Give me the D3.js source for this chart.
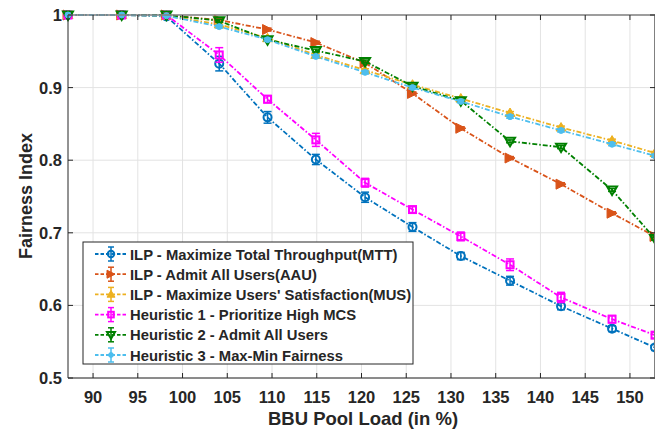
<!DOCTYPE html>
<html>
<head>
<meta charset="utf-8" />
<script src="https://cdn.jsdelivr.net/npm/d3@7"></script>
<style>
  body { margin: 0; background: #fff; }
  text { font-family: "Liberation Sans", Arial, sans-serif; font-weight: bold; fill: #262626; }
</style>
</head>
<body>
<script>
var loads = [87.2, 93.2, 98.2, 104.1, 109.5, 114.9, 120.4, 125.7, 131.1, 136.6, 142.3, 148.0, 152.8];

var mtt = [1, 1, 0.998, 0.933, 0.859, 0.801, 0.749, 0.708, 0.668, 0.634, 0.599, 0.568, 0.542];
var aau = [1, 1, 1, 0.993, 0.980, 0.962, 0.934, 0.892, 0.844, 0.803, 0.767, 0.727, 0.695];
var mus = [1, 1, 0.999, 0.987, 0.968, 0.945, 0.924, 0.904, 0.885, 0.865, 0.845, 0.827, 0.810];
var h1 = [1, 1, 1, 0.945, 0.884, 0.828, 0.769, 0.732, 0.695, 0.656, 0.611, 0.581, 0.559];
var h2 = [1, 1, 1, 0.992, 0.966, 0.951, 0.936, 0.902, 0.882, 0.826, 0.818, 0.759, 0.692];
var h3 = [1, 1, 0.999, 0.984, 0.966, 0.943, 0.921, 0.900, 0.881, 0.860, 0.841, 0.822, 0.806];

var errMtt = [0, 0, 0.002, 0.010, 0.008, 0.007, 0.007, 0.006, 0.005, 0.006, 0.005, 0.004, 0.004];
var errH1 = [0, 0, 0.001, 0.010, 0.005, 0.009, 0.006, 0.004, 0.006, 0.008, 0.007, 0.005, 0.004];
var errSmall = [0, 0, 0.001, 0.002, 0.002, 0.002, 0.002, 0.002, 0.002, 0.002, 0.002, 0.002, 0.002];

var seriesNames = [
    "ILP - Maximize Total Throughput(MTT)",
    "ILP - Admit All Users(AAU)",
    "ILP - Maximize Users' Satisfaction(MUS)",
    "Heuristic 1 - Prioritize High MCS",
    "Heuristic 2 - Admit All Users",
    "Heuristic 3 - Max-Min Fairness"
];
var seriesColors = ["#0072BD", "#D95319", "#EDB120", "#FF00FF", "#008000", "#4DBEEE"];
var seriesMarkers = ["circle", "right", "up", "square", "down", "dot"];
var seriesValues = [mtt, aau, mus, h1, h2, h3];
var seriesErr = [errMtt, errSmall, errSmall, errH1, errSmall, errSmall];

var xTicks = [90, 95, 100, 105, 110, 115, 120, 125, 130, 135, 140, 145, 150];
var yTicks = [0.5, 0.6, 0.7, 0.8, 0.9, 1];

var width = 656, height = 432;
var margin = { left: 68, right: 1, top: 15, bottom: 54 };

var svg = d3.select("body").append("svg")
    .attr("width", width)
    .attr("height", height);

var x = d3.scaleLinear()
    .domain([87.2, 152.8])
    .range([margin.left, width - margin.right]);

var y = d3.scaleLinear()
    .domain([0.5, 1])
    .range([height - margin.bottom, margin.top]);

// grid
svg.append("g").selectAll("line").data(xTicks).enter().append("line")
    .attr("x1", function (d) { return x(d); }).attr("x2", function (d) { return x(d); })
    .attr("y1", y(0.5)).attr("y2", y(1))
    .attr("stroke", "#e3e3e3").attr("stroke-width", 1);
svg.append("g").selectAll("line").data(yTicks).enter().append("line")
    .attr("x1", x(87.2)).attr("x2", x(152.8))
    .attr("y1", function (d) { return y(d); }).attr("y2", function (d) { return y(d); })
    .attr("stroke", "#e3e3e3").attr("stroke-width", 1);

svg.append("clipPath").attr("id", "clip").append("rect")
    .attr("x", x(87.2) - 8).attr("y", y(1) - 8)
    .attr("width", x(152.8) - x(87.2) + 8).attr("height", y(0.5) - y(1) + 8);

var plot = svg.append("g").attr("clip-path", "url(#clip)");

var line = d3.line()
    .x(function (d) { return x(d[0]); })
    .y(function (d) { return y(d[1]); });

function drawMarker(g, type, cx, cy, color, size) {
    var s = size;
    if (type === "circle") {
        g.append("circle").attr("cx", cx).attr("cy", cy).attr("r", s * 0.8)
            .attr("fill", "none").attr("stroke", color).attr("stroke-width", 2);
    } else if (type === "square") {
        g.append("rect").attr("x", cx - s * 0.7).attr("y", cy - s * 0.7)
            .attr("width", s * 1.4).attr("height", s * 1.4)
            .attr("fill", "none").attr("stroke", color).attr("stroke-width", 2);
    } else if (type === "right") {
        g.append("path").attr("d", "M" + (cx - s) + "," + (cy - s) + "L" + (cx + s) + "," + cy + "L" + (cx - s) + "," + (cy + s) + "Z")
            .attr("fill", color).attr("stroke", color).attr("stroke-width", 1);
    } else if (type === "up") {
        g.append("path").attr("d", "M" + cx + "," + (cy - s) + "L" + (cx + s) + "," + (cy + s * 0.7) + "L" + (cx - s) + "," + (cy + s * 0.7) + "Z")
            .attr("fill", color).attr("stroke", color).attr("stroke-width", 1);
    } else if (type === "down") {
        g.append("path").attr("d", "M" + (cx - s) + "," + (cy - s * 0.7) + "L" + (cx + s) + "," + (cy - s * 0.7) + "L" + cx + "," + (cy + s) + "Z")
            .attr("fill", "none").attr("stroke", color).attr("stroke-width", 2);
    } else {
        g.append("circle").attr("cx", cx).attr("cy", cy).attr("r", s * 0.6)
            .attr("fill", color).attr("stroke", color);
    }
}

seriesValues.forEach(function (vals, i) {
    var color = seriesColors[i];
    var pts = loads.map(function (l, j) { return [l, vals[j]]; });
    var g = plot.append("g");
    g.append("path").datum(pts)
        .attr("d", line)
        .attr("fill", "none")
        .attr("stroke", color)
        .attr("stroke-width", 1.8)
        .attr("stroke-dasharray", "5,2,1.5,2");
    pts.forEach(function (p, j) {
        var e = seriesErr[i][j];
        var cx = x(p[0]);
        if (e > 0) {
            g.append("line").attr("x1", cx).attr("x2", cx)
                .attr("y1", y(p[1] - e)).attr("y2", y(p[1] + e))
                .attr("stroke", color).attr("stroke-width", 1.5);
            [p[1] - e, p[1] + e].forEach(function (v) {
                g.append("line").attr("x1", cx - 4).attr("x2", cx + 4)
                    .attr("y1", y(v)).attr("y2", y(v))
                    .attr("stroke", color).attr("stroke-width", 1.5);
            });
        }
        drawMarker(g, seriesMarkers[i], cx, y(p[1]), color, 5);
    });
});

// axes box
var axisColor = "#262626";
svg.append("line").attr("x1", x(87.2)).attr("x2", x(87.2)).attr("y1", y(0.5)).attr("y2", y(1))
    .attr("stroke", axisColor).attr("stroke-width", 1);
svg.append("line").attr("x1", x(87.2)).attr("x2", x(152.8)).attr("y1", y(0.5)).attr("y2", y(0.5))
    .attr("stroke", axisColor).attr("stroke-width", 1);
svg.append("line").attr("x1", x(87.2)).attr("x2", x(152.8)).attr("y1", y(1)).attr("y2", y(1))
    .attr("stroke", "#808080").attr("stroke-width", 1.5);
svg.append("line").attr("x1", x(152.8) - 0.5).attr("x2", x(152.8) - 0.5).attr("y1", y(0.5)).attr("y2", y(1))
    .attr("stroke", "#808080").attr("stroke-width", 1);

// ticks
xTicks.forEach(function (t) {
    svg.append("line").attr("x1", x(t)).attr("x2", x(t)).attr("y1", y(0.5)).attr("y2", y(0.5) - 5)
        .attr("stroke", axisColor);
    svg.append("line").attr("x1", x(t)).attr("x2", x(t)).attr("y1", y(1)).attr("y2", y(1) + 5)
        .attr("stroke", axisColor);
    svg.append("text").attr("x", x(t)).attr("y", y(0.5) + 25)
        .attr("text-anchor", "middle").attr("font-size", 16.5).text(t);
});
yTicks.forEach(function (t) {
    svg.append("line").attr("x1", x(87.2)).attr("x2", x(87.2) + 5).attr("y1", y(t)).attr("y2", y(t))
        .attr("stroke", axisColor);
    svg.append("line").attr("x1", x(152.8)).attr("x2", x(152.8) - 5).attr("y1", y(t)).attr("y2", y(t))
        .attr("stroke", axisColor);
    svg.append("text").attr("x", x(87.2) - 6).attr("y", y(t) + 6)
        .attr("text-anchor", "end").attr("font-size", 16.5).text(d3.format("")(t));
});

svg.append("text")
    .attr("x", 363).attr("y", 425)
    .attr("text-anchor", "middle").attr("font-size", 18.5)
    .text("BBU Pool Load (in %)");

svg.append("text")
    .attr("transform", "translate(32," + 196 + ") rotate(-90)")
    .attr("text-anchor", "middle").attr("font-size", 18)
    .text("Fairness Index");

// legend
var legend = svg.append("g");
legend.append("rect").attr("x", 83).attr("y", 242).attr("width", 330).attr("height", 122)
    .attr("fill", "#fff").attr("stroke", "#262626").attr("stroke-width", 1);
seriesNames.forEach(function (name, i) {
    var ly = 254 + i * 20.2;
    var color = seriesColors[i];
    var g = legend.append("g");
    g.append("line").attr("x1", 95).attr("x2", 127).attr("y1", ly).attr("y2", ly)
        .attr("stroke", color).attr("stroke-width", 1.8).attr("stroke-dasharray", "3.5,2");
    g.append("line").attr("x1", 111).attr("x2", 111).attr("y1", ly - 7).attr("y2", ly + 7)
        .attr("stroke", color).attr("stroke-width", 1.5);
    [ly - 7, ly + 7].forEach(function (v) {
        g.append("line").attr("x1", 108).attr("x2", 114).attr("y1", v).attr("y2", v)
            .attr("stroke", color).attr("stroke-width", 1.5);
    });
    drawMarker(g, seriesMarkers[i], 111, ly, color, 4);
    g.append("text").attr("x", 130).attr("y", ly + 5.5).attr("font-size", 14.8).text(name);
});
</script>
</body>
</html>
